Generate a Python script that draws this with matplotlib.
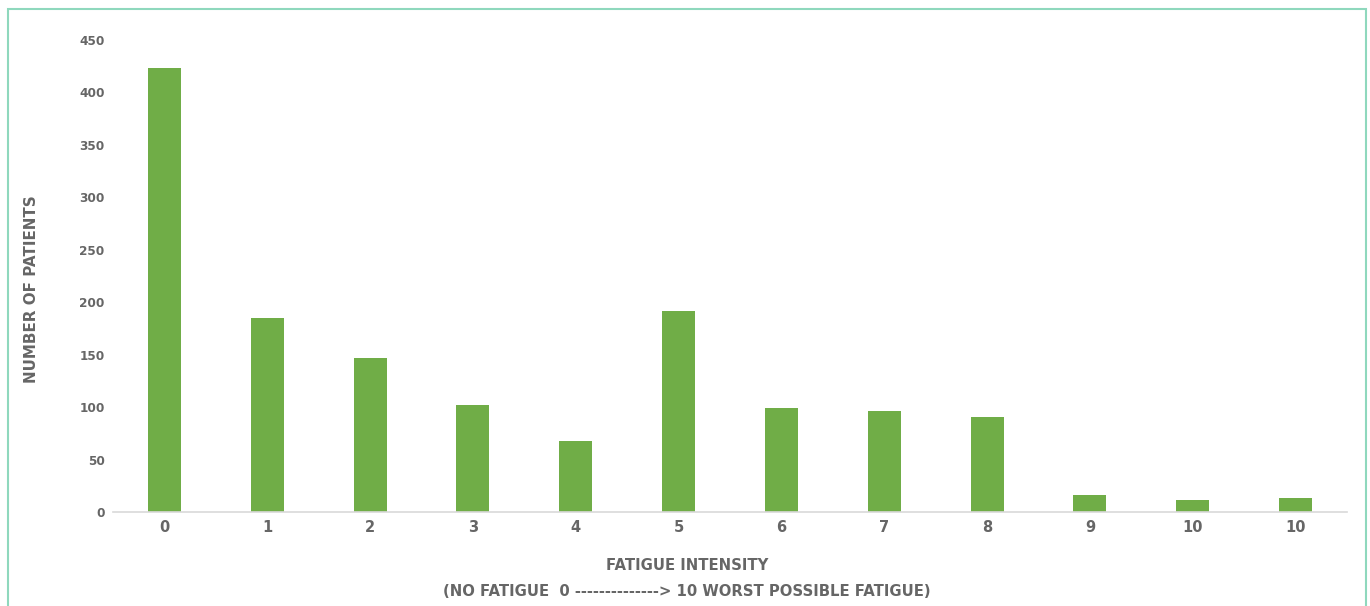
import matplotlib.pyplot as plt
from matplotlib.patches import Rectangle

# Data
categories = ['0', '1', '2', '3', '4', '5', '6', '7', '8', '9', '10', '10']
patients = [423, 185, 147, 102, 68, 192, 99, 96, 91, 16, 11, 13]

bar_color = '#70ad47'
text_color = '#666666'
plt.rcParams['font.family'] = ['DejaVu Sans']

fig = plt.figure(figsize=(13.7, 6.06), dpi=100)
ax = fig.add_axes([113 / 1370, 1 - 512 / 606, 1234 / 1370, 472 / 606])

x = list(range(len(categories)))
ax.bar(x, patients, width=0.32, color=bar_color)

ax.set_xlim(-0.5, len(categories) - 0.5)
ax.set_ylim(0, 450)
ax.set_yticks(range(0, 451, 50))
ax.set_xticks(x)
ax.set_xticklabels(categories)

for side in ['top', 'right', 'left']:
    ax.spines[side].set_visible(False)
ax.spines['bottom'].set_color('#d9d9d9')
ax.spines['bottom'].set_linewidth(1.2)
ax.tick_params(axis='both', length=0)
ax.tick_params(axis='y', pad=6)
ax.tick_params(axis='x', pad=6)

for lbl in ax.get_yticklabels():
    lbl.set_fontweight('bold')
    lbl.set_fontsize(8.7)
    lbl.set_color(text_color)
for lbl in ax.get_xticklabels():
    lbl.set_fontweight('bold')
    lbl.set_fontsize(10.5)
    lbl.set_color(text_color)

fig.text(687 / 1370, 1 - 565 / 606, 'FATIGUE INTENSITY', ha='center', va='center',
         fontweight='bold', fontsize=10.7, color=text_color)
fig.text(687 / 1370, 1 - 591 / 606, '(NO FATIGUE  0 --------------> 10 WORST POSSIBLE FATIGUE)',
         ha='center', va='center', fontweight='bold', fontsize=10.7, color=text_color)
fig.text(31 / 1370, 1 - 289 / 606, 'NUMBER OF PATIENTS', ha='center', va='center',
         rotation=90, fontweight='bold', fontsize=10.9, color=text_color)

# frame around the chart
frame = Rectangle((7.5 / 1370, -0.05), (1366 - 7.5) / 1370, 1 - 8.5 / 606 + 0.05,
                  transform=fig.transFigure, fill=False, edgecolor='#8fd8bd',
                  linewidth=1.5, clip_on=False)
fig.patches.append(frame)

fig.savefig('out.png', dpi=100)
